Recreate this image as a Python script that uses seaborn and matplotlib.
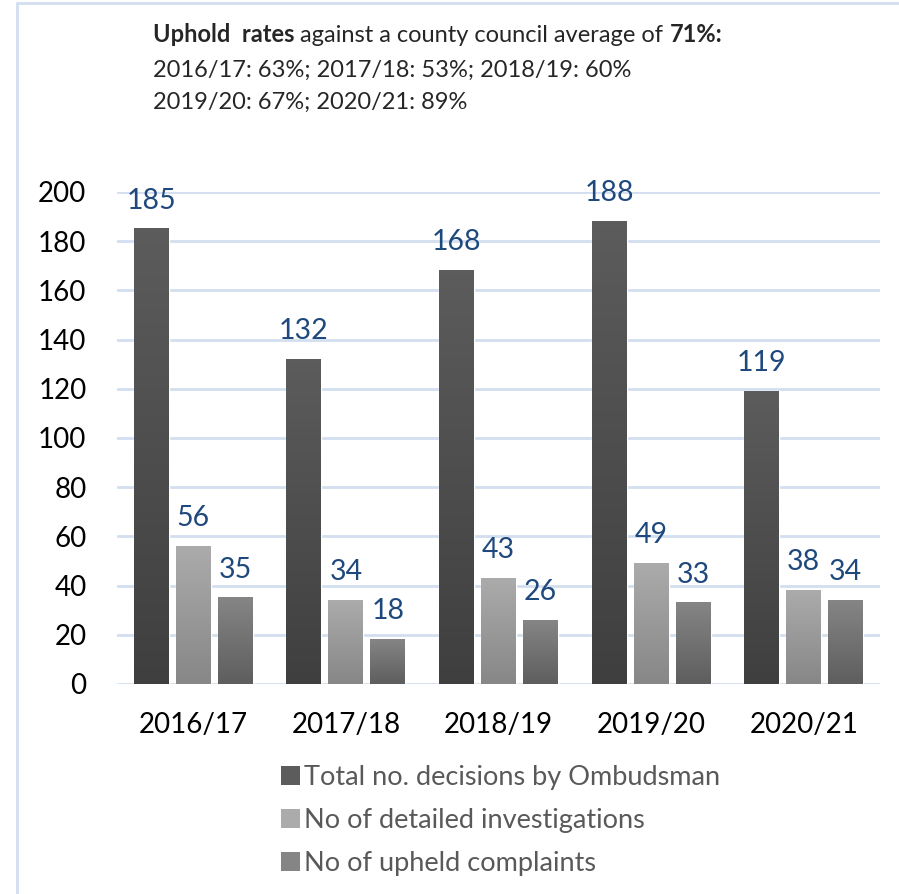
import numpy as np
import pandas as pd
import matplotlib
matplotlib.use("Agg")
import matplotlib.pyplot as plt
import matplotlib.colors as mcolors
from matplotlib.lines import Line2D
from matplotlib.patches import Patch
import seaborn as sns

years = ["2016/17", "2017/18", "2018/19", "2019/20", "2020/21"]
series = ["Total no. decisions by Ombudsman",
          "No of detailed investigations",
          "No of upheld complaints"]
total_decisions = [185, 132, 168, 188, 119]
detailed_investigations = [56, 34, 43, 49, 38]
upheld_complaints = [35, 18, 26, 33, 34]
yticks = list(range(0, 201, 20))

# (top colour, bottom colour) for the gradient fill of each series
grad = {
    series[0]: ("#5c5c5c", "#3f3f3f"),
    series[1]: ("#ababab", "#878787"),
    series[2]: ("#858585", "#5e5e5e"),
}


def main():
    df = pd.DataFrame({
        "year": years * 3,
        "series": [series[0]] * 5 + [series[1]] * 5 + [series[2]] * 5,
        "value": total_decisions + detailed_investigations + upheld_complaints,
    })

    sns.set_style("white")
    plt.rcParams["font.family"] = ["Lato", "DejaVu Sans"]

    fig = plt.figure(figsize=(8.99, 8.94), dpi=100)
    ax = fig.add_axes([117 / 899, 210 / 894, 763 / 899, 492 / 894])

    palette = {s: grad[s][0] for s in series}
    sns.barplot(data=df, x="year", y="value", hue="series", order=years,
                hue_order=series, palette=palette, width=0.826, gap=0.167,
                legend=False, ax=ax, zorder=3, saturation=1)

    # vertical gradient fill over each bar
    for container, s in zip(ax.containers, series):
        top, bot = grad[s]
        cmap = mcolors.LinearSegmentedColormap.from_list(s, [bot, top])
        for bar in container:
            x0, y0 = bar.get_x(), bar.get_y()
            w, h = bar.get_width(), bar.get_height()
            ax.imshow(np.linspace(0, 1, 100).reshape(-1, 1), cmap=cmap,
                      vmin=0, vmax=1, aspect="auto",
                      extent=(x0, x0 + w, y0, y0 + h), origin="lower",
                      zorder=3.5)
        ax.bar_label(container, labels=[str(int(v.get_height())) for v in container],
                     padding=11, fontsize=20.5, color="#1f497d")

    ax.set_xlim(-0.5, 4.5)
    ax.set_ylim(0, 200)
    ax.set_yticks(yticks)
    ax.grid(axis="y", color="#d3dff0", linewidth=2, zorder=0)
    ax.set_axisbelow(True)
    sns.despine(ax=ax, left=True, bottom=True)
    ax.tick_params(axis="both", length=0, labelsize=20, colors="black")
    ax.tick_params(axis="y", pad=22)
    ax.tick_params(axis="x", pad=20)
    ax.set_xlabel("")
    ax.set_ylabel("")

    # legend
    handles = [Patch(facecolor=grad[s][0], edgecolor="none") for s in series]
    fig.legend(handles, series, loc="upper left",
               bbox_to_anchor=(257 / 899, 1 - 741 / 894), frameon=False,
               fontsize=19.5, handlelength=0.7, handleheight=0.7,
               handletextpad=0.15, labelspacing=0.65, labelcolor="#595959")

    # header text, chained so the runs sit next to each other
    t1 = fig.text(153 / 899, 1 - 35 / 894, "Uphold  rates", fontsize=17,
                  fontweight="bold", va="center")
    t2 = fig.text(0, 0, " against a county council average of ", fontsize=17,
                  va="center")
    t3 = fig.text(0, 0, "71%:", fontsize=17, fontweight="bold", va="center")
    fig.canvas.draw()
    r = fig.canvas.get_renderer()
    bb = t1.get_window_extent(r)
    t2.set_position((bb.x1 / fig.bbox.width, 1 - 35 / 894))
    bb = t2.get_window_extent(r)
    t3.set_position((bb.x1 / fig.bbox.width, 1 - 35 / 894))
    fig.text(153 / 899, 1 - 70 / 894,
             "2016/17: 63%; 2017/18: 53%; 2018/19: 60%", fontsize=17, va="center")
    fig.text(153 / 899, 1 - 102 / 894,
             "2019/20: 67%; 2020/21: 89%", fontsize=17, va="center")

    # frame lines at left / top
    fig.add_artist(Line2D([17 / 899, 17 / 899], [0, 1 - 3 / 894],
                          color="#d3dff0", linewidth=2))
    fig.add_artist(Line2D([17 / 899, 1], [1 - 3 / 894, 1 - 3 / 894],
                          color="#d3dff0", linewidth=2))

    fig.savefig("out.png", dpi=100)


if __name__ == "__main__":
    main()
